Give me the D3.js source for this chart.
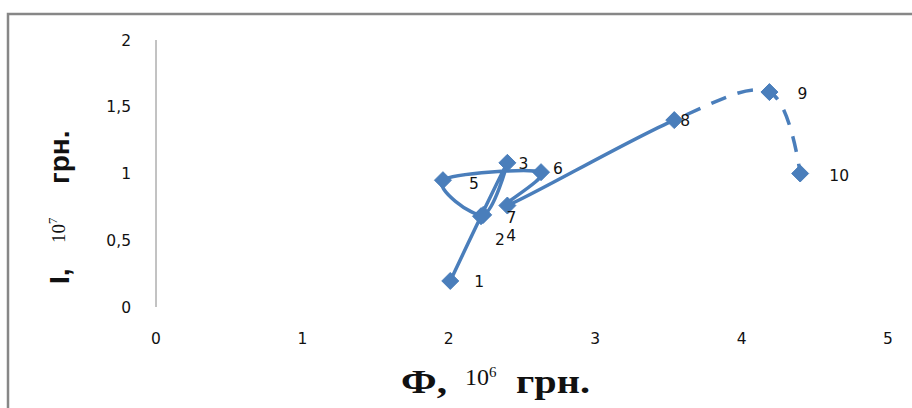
<!DOCTYPE html>
<html>
<head>
<meta charset="utf-8">
<script src="https://cdn.jsdelivr.net/npm/d3@7"></script>
<style>
  body { margin: 0; background: #fff; }
  svg { display: block; }
</style>
</head>
<body>
<svg width="912" height="408"></svg>
<script>
// point numbers and coordinates (Ф in 10^6 грн, I in 10^7 грн)
var pointLabels = ["1", "2", "3", "4", "5", "6", "7", "8", "9", "10"];
var phiValues = [2.01, 2.22, 2.40, 2.235, 1.96, 2.63, 2.40, 3.54, 4.19, 4.40];
var iValues = [0.195, 0.68, 1.08, 0.69, 0.95, 1.01, 0.76, 1.40, 1.61, 1.00];

var xTicks = [0, 1, 2, 3, 4, 5];
var xTickLabels = ["0", "1", "2", "3", "4", "5"];
var yTicks = [0, 0.5, 1, 1.5, 2];
var yTickLabels = ["0", "0,5", "1", "1,5", "2"];

var blue = "#4a7ebb";

var svg = d3.select("svg"),
    width = +svg.attr("width"),
    height = +svg.attr("height");

// outer frame (only left and top edges are visible)
svg.append("rect")
    .attr("x", 8).attr("y", 14)
    .attr("width", 960).attr("height", 460)
    .attr("fill", "none")
    .attr("stroke", "#878787")
    .attr("stroke-width", 2.5);

var x = d3.scaleLinear().domain([0, 5]).range([156, 888]);
var y = d3.scaleLinear().domain([0, 2]).range([307, 40]);

var tickFont = "'DejaVu Sans', Verdana, sans-serif";

// y axis line
svg.append("line")
    .attr("x1", x(0)).attr("x2", x(0))
    .attr("y1", y(2)).attr("y2", y(0))
    .attr("stroke", "#868686")
    .attr("stroke-width", 1);

svg.append("g").selectAll("text")
    .data(yTicks)
  .enter().append("text")
    .attr("x", 131)
    .attr("y", function(d) { return y(d); })
    .attr("dy", "0.36em")
    .attr("text-anchor", "end")
    .style("font-family", tickFont)
    .style("font-size", "15.5px")
    .style("fill", "#111")
    .text(function(d, i) { return yTickLabels[i]; });

svg.append("g").selectAll("text")
    .data(xTicks)
  .enter().append("text")
    .attr("x", function(d) { return x(d); })
    .attr("y", 344)
    .attr("text-anchor", "middle")
    .style("font-family", tickFont)
    .style("font-size", "15.5px")
    .style("fill", "#111")
    .text(function(d, i) { return xTickLabels[i]; });

var points = phiValues.map(function(v, i) {
  return { x: v, y: iValues[i], label: pointLabels[i] };
});

var line = d3.line()
    .x(function(d) { return x(d.x); })
    .y(function(d) { return y(d.y); })
    .curve(d3.curveCardinal.tension(0));

var path = svg.append("path")
    .datum(points)
    .attr("d", line)
    .attr("fill", "none")
    .attr("stroke", blue)
    .attr("stroke-width", 3.5)
    .attr("stroke-linejoin", "round");

// solid up to point 8, dashed after it
var node = path.node(),
    total = node.getTotalLength(),
    p8 = points[7],
    px = x(p8.x), py = y(p8.y),
    best = 0, bestDist = Infinity;
for (var l = 0; l <= total; l += 0.25) {
  var pt = node.getPointAtLength(l),
      dd = (pt.x - px) * (pt.x - px) + (pt.y - py) * (pt.y - py);
  if (dd < bestDist) { bestDist = dd; best = l; }
}
var dashes = [best];
var acc = best;
while (acc < total) {
  dashes.push(12, 16);
  acc += 28;
}
dashes.push(total + 100);
if (dashes.length % 2) dashes.push(0);
path.attr("stroke-dasharray", dashes.join(","))
    .attr("stroke-linecap", "butt");

// diamond markers
svg.append("g").selectAll("path")
    .data(points)
  .enter().append("path")
    .attr("transform", function(d) { return "translate(" + x(d.x) + "," + y(d.y) + ")"; })
    .attr("d", "M0,-8.5L8.5,0L0,8.5L-8.5,0Z")
    .attr("fill", blue)
    .attr("stroke", blue)
    .attr("stroke-width", 1);

// point labels, offsets as placed in the original
var labelShift = [[29, 0], [19, 23], [16, 1], [28, 21], [31, 3], [17, -4], [4, 12], [11, 0], [33, 1], [39, 2]];
svg.append("g").selectAll("text")
    .data(points)
  .enter().append("text")
    .attr("x", function(d, i) { return x(d.x) + labelShift[i][0]; })
    .attr("y", function(d, i) { return y(d.y) + labelShift[i][1]; })
    .attr("dy", "0.36em")
    .attr("text-anchor", "middle")
    .style("font-family", tickFont)
    .style("font-size", "15.5px")
    .style("fill", "#111")
    .text(function(d) { return d.label; });

// x axis title
var serif = "'Liberation Serif', 'Times New Roman', serif";
var xt = svg.append("text")
    .attr("y", 393)
    .style("font-family", serif)
    .style("fill", "#111");
xt.append("tspan").attr("x", 401).attr("textLength", 46).attr("lengthAdjust", "spacingAndGlyphs")
    .style("font-size", "33px").style("font-weight", "bold").text("Ф,");
xt.append("tspan").attr("x", 465).attr("dy", -8).style("font-size", "24px").text("10");
xt.append("tspan").attr("dy", -8).style("font-size", "15px").text("6");
xt.append("tspan").attr("x", 516).attr("dy", 16).attr("textLength", 74).attr("lengthAdjust", "spacingAndGlyphs")
    .style("font-size", "33px").style("font-weight", "bold").text("грн.");

// y axis title
var sans = "'Liberation Sans', Arial, sans-serif";
var yt = svg.append("text")
    .attr("transform", "translate(69,0) rotate(-90)")
    .style("fill", "#111");
yt.append("tspan").attr("x", -284).style("font-family", sans).style("font-size", "28px").style("font-weight", "bold").text("I,");
yt.append("tspan").attr("x", -243).attr("dy", -4).style("font-family", serif).style("font-size", "19px").text("10");
yt.append("tspan").attr("dy", -8).style("font-family", serif).style("font-size", "13px").text("7");
yt.append("tspan").attr("x", -184).attr("dy", 12).style("font-family", sans).style("font-size", "28px").style("font-weight", "bold").text("грн.");
</script>
</body>
</html>
